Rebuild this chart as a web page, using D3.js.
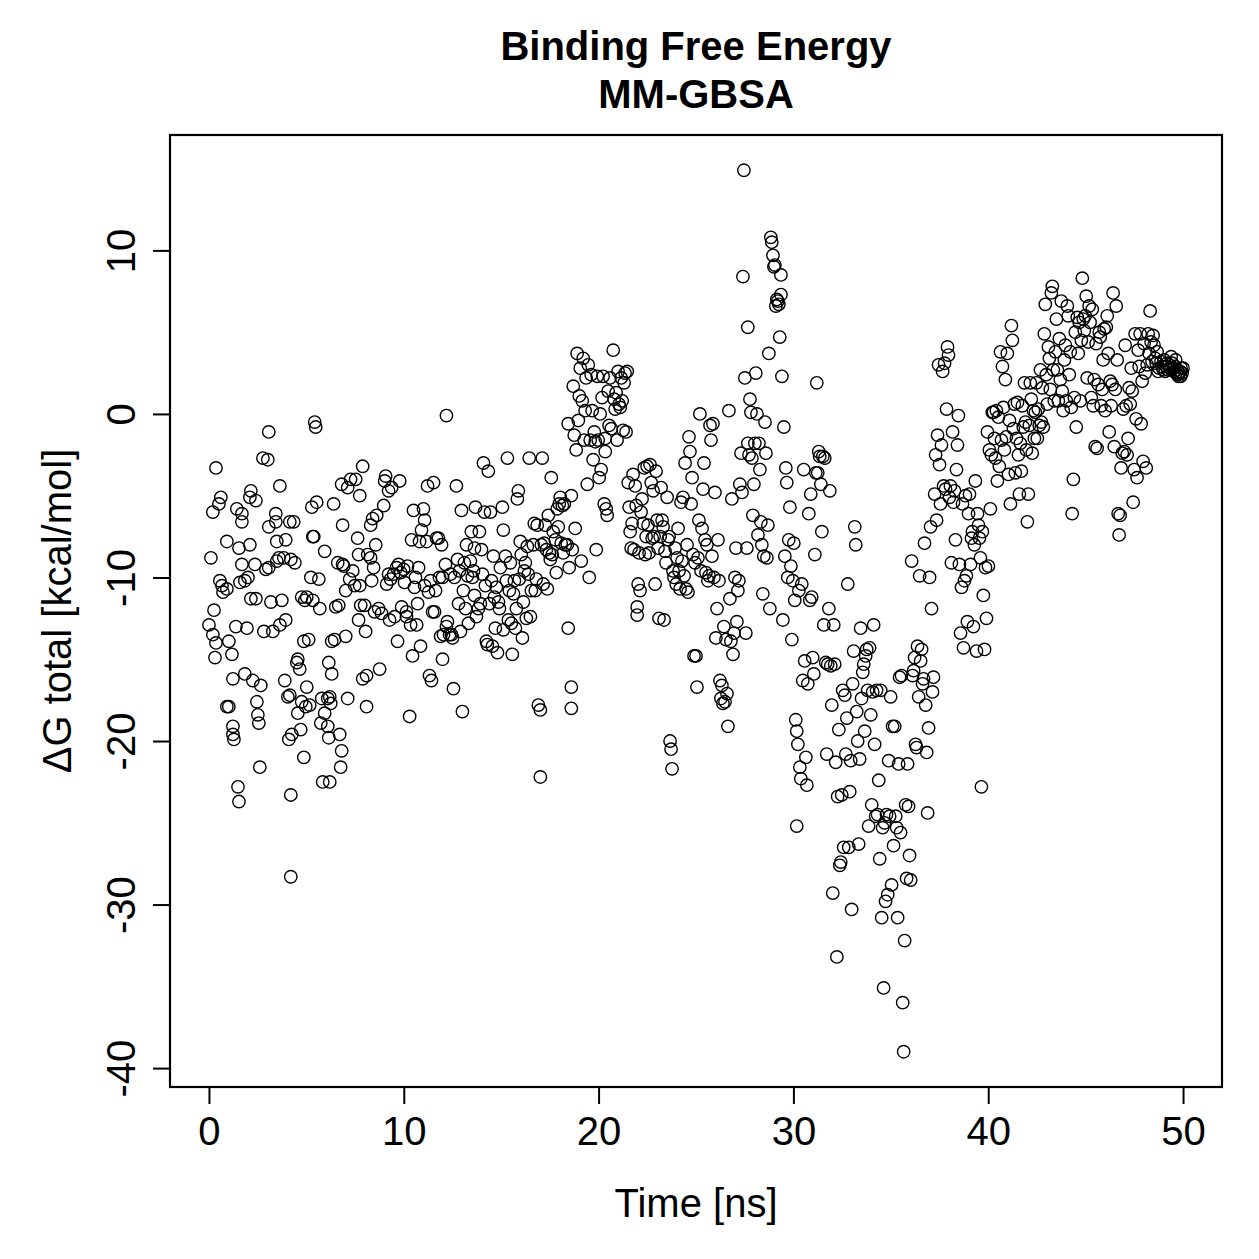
<!DOCTYPE html>
<html>
<head>
<meta charset="utf-8">
<script src="https://cdn.jsdelivr.net/npm/d3@7"></script>
<style>
  body { margin: 0; background: #fff; }
  svg { display: block; }
  text { font-family: "Liberation Sans", Arial, Helvetica, sans-serif; fill: #000; }
</style>
</head>
<body>
<div id="chart"></div>
<script>
const titleLines = ["Binding Free Energy", "MM-GBSA"];
const xLabel = "Time [ns]";
const yLabel = "\u0394G total [kcal/mol]";
const xTicks = [0, 10, 20, 30, 40, 50];
const yTicks = [-40, -30, -20, -10, 0, 10];

// [time (ns), dG total (kcal/mol)]
const samples = [
  [0.00,-12.9],[0.10,-8.8],[0.20,-13.5],[0.26,-12.0],[0.31,-14.9],[0.36,-14.0],[0.20,-6.0],[0.36,-3.3],[0.51,-5.5],[0.56,-10.2],
  [0.67,-10.5],[0.72,-10.9],[0.61,-5.1],[0.92,-7.8],[0.92,-10.7],[0.92,-17.9],[1.02,-17.9],[1.02,-13.9],[1.18,-14.7],[1.23,-19.6],
  [1.28,-19.9],[1.23,-19.1],[1.23,-16.2],[1.38,-13.0],[1.43,-5.8],[1.54,-8.2],[1.49,-22.8],[1.54,-23.7],[1.59,-10.3],[1.69,-6.1],
  [1.69,-6.6],[1.84,-10.2],[2.00,-10.0],[1.84,-15.9],[1.69,-9.2],[1.95,-13.1],[2.10,-5.1],[2.15,-4.7],[2.10,-8.0],[2.15,-11.3],
  [2.25,-16.3],[2.41,-5.3],[2.36,-9.2],[2.41,-11.3],[2.46,-17.6],[2.51,-18.4],[2.56,-18.9],[2.61,-21.6],[2.66,-16.6],[2.77,-2.7],
  [2.82,-13.3],[3.02,-2.8],[3.07,-1.1],[3.07,-6.9],[3.07,-9.4],[3.18,-11.5],[2.92,-9.5],[3.28,-13.3],[3.43,-6.1],[3.43,-6.6],
  [3.48,-7.8],[3.48,-9.0],[3.59,-8.8],[3.64,-4.4],[3.64,-12.9],[3.74,-11.4],[3.84,-8.8],[3.89,-16.3],[3.94,-12.6],[4.05,-17.3],
  [4.15,-17.2],[4.20,-28.3],[4.20,-23.3],[4.10,-19.9],[4.15,-6.6],[3.94,-7.7],[4.20,-8.9],[4.25,-19.6],[4.35,-6.6],[4.41,-9.1],
  [4.51,-15.2],[4.56,-15.0],[4.66,-15.6],[4.56,-18.3],[4.71,-19.3],[4.76,-17.6],[4.76,-11.2],[4.87,-13.9],[4.87,-21.0],[5.02,-11.2],
  [4.92,-11.4],[4.97,-17.9],[5.02,-16.7],[5.12,-13.8],[5.17,-17.8],[5.23,-10.0],[5.28,-5.7],[5.33,-7.5],[5.38,-7.5],[5.33,-11.4],
  [5.43,-0.5],[5.48,-0.8],[5.53,-5.4],[5.64,-10.1],[5.69,-11.9],[5.74,-18.9],[5.79,-17.4],[5.84,-22.5],[5.94,-18.3],[5.94,-8.4],
  [6.10,-19.1],[6.10,-17.4],[6.15,-15.2],[6.15,-19.8],[6.20,-17.3],[6.20,-22.5],[6.25,-17.7],[6.30,-15.9],[6.30,-13.9],[6.40,-5.5],
  [6.45,-13.8],[6.51,-11.8],[6.66,-11.7],[6.61,-9.1],[6.71,-19.6],[6.76,-21.6],[6.81,-20.6],[6.86,-6.8],[6.86,-9.2],[6.81,-4.3],
  [6.92,-9.3],[7.02,-13.6],[7.02,-10.8],[7.12,-17.4],[7.12,-4.5],[7.22,-10.1],[7.27,-4.0],[7.38,-9.6],[7.48,-10.5],[7.53,-4.0],
  [7.63,-7.6],[7.68,-12.6],[7.74,-5.0],[7.68,-8.6],[7.74,-10.5],[7.79,-11.7],[7.89,-3.2],[7.89,-16.2],[7.99,-11.7],[8.04,-13.3],
  [8.09,-16.0],[8.09,-17.9],[8.15,-8.6],[8.30,-6.8],[8.30,-8.8],[8.35,-10.2],[8.40,-6.4],[8.45,-9.4],[8.50,-12.1],[8.56,-8.0],
  [8.61,-6.2],[8.71,-11.9],[8.76,-15.6],[8.86,-12.2],[8.97,-5.6],[9.02,-4.1],[9.07,-3.8],[9.12,-10.4],[9.22,-4.7],[9.22,-9.8],
  [9.27,-12.6],[9.32,-10.1],[9.38,-4.5],[9.48,-9.8],[9.53,-12.4],[9.63,-9.4],[9.68,-13.9],[9.73,-9.2],[9.79,-4.1],[9.84,-9.7],
  [9.89,-11.8],
  [9.99,-9.5],[10.04,-10.3],[10.14,-12.1],[10.14,-12.4],[10.19,-9.3],[10.30,-18.5],[10.35,-12.9],[10.40,-7.7],[10.45,-14.8],[10.50,-5.9],
  [10.55,-10.6],[10.60,-10.0],[10.66,-12.9],[10.71,-11.6],[10.76,-9.4],[10.81,-7.8],[10.86,-14.2],[10.91,-7.1],[11.01,-5.8],[11.07,-10.5],
  [11.07,-6.5],[11.17,-7.8],[11.22,-4.4],[11.27,-10.9],[11.37,-10.2],[11.32,-16.0],[11.42,-16.3],[11.48,-12.1],[11.53,-4.2],[11.58,-12.1],
  [11.63,-10.8],[11.68,-7.6],[11.78,-7.6],[11.83,-10.0],[11.89,-13.6],[11.94,-8.0],[11.99,-10.0],[11.99,-15.0],[12.04,-13.5],[12.14,-9.2],
  [12.19,-0.1],[12.19,-13.0],[12.24,-12.7],[12.35,-13.5],[12.40,-9.8],[12.45,-13.5],[12.50,-13.7],[12.55,-16.8],[12.60,-10.0],[12.70,-4.4],
  [12.76,-8.9],[12.81,-11.6],[12.86,-9.6],[12.91,-13.3],[12.96,-5.9],[13.01,-18.2],[13.06,-10.8],[13.11,-9.1],[13.17,-11.9],[13.22,-8.0],
  [13.27,-9.9],[13.32,-12.8],[13.42,-9.0],[13.47,-7.2],[13.52,-10.0],[13.58,-9.6],[13.63,-11.1],[13.63,-8.2],[13.68,-5.7],[13.73,-12.4],
  [13.83,-11.9],[13.88,-7.2],[13.93,-11.6],[13.99,-8.3],[14.04,-9.8],[14.09,-3.0],[14.14,-6.0],[14.19,-10.5],[14.24,-13.9],[14.29,-14.1],
  [14.34,-3.5],[14.40,-11.6],[14.45,-6.0],[14.50,-10.2],[14.55,-14.2],[14.60,-8.7],[14.65,-11.2],[14.70,-13.1],[14.75,-10.6],[14.81,-14.6],
  [14.86,-11.5],[14.91,-11.9],[14.96,-9.4],
  [15.06,-5.7],[15.11,-7.1],[15.11,-13.2],[15.22,-8.7],[15.27,-10.2],[15.32,-2.7],[15.37,-12.6],[15.42,-10.8],[15.47,-9.1],[15.52,-12.8],
  [15.57,-14.7],[15.63,-11.0],[15.68,-10.2],[15.73,-13.1],[15.78,-11.9],[15.83,-5.2],[15.88,-4.7],[15.93,-10.1],[15.98,-7.8],[16.03,-8.6],
  [16.09,-13.7],[16.14,-11.5],[16.19,-9.6],[16.24,-9.1],[16.29,-12.5],[16.34,-8.1],[16.39,-9.8],[16.44,-2.7],[16.50,-12.4],[16.55,-10.8],
  [16.65,-8.0],[16.70,-6.7],[16.75,-10.8],[16.80,-10.1],[16.85,-6.8],[16.91,-17.8],[17.01,-18.1],[17.01,-22.2],[17.06,-8.0],[17.11,-2.7],
  [17.16,-10.4],[17.21,-7.9],[17.26,-6.8],[17.32,-8.3],[17.37,-10.7],[17.42,-6.2],[17.47,-8.5],[17.52,-8.9],[17.57,-3.9],[17.62,-8.6],
  [17.67,-7.2],[17.78,-7.7],[17.83,-9.7],[17.88,-5.8],[17.93,-6.9],[17.98,-5.5],[18.03,-5.1],[18.08,-7.9],[18.14,-5.6],[18.19,-8.5],
  [18.24,-5.5],[18.29,-8.0],[18.39,-8.0],[18.44,-13.1],[18.44,-0.6],[18.49,-9.4],[18.60,-5.0],[18.60,-16.7],[18.60,-18.0],[18.65,-8.3],
  [18.70,1.7],[18.75,-1.3],[18.80,-7.0],[18.85,-2.2],[18.90,3.7],[18.96,-0.4],[19.01,1.1],[19.06,2.8],[19.11,-9.0],[19.16,0.8],
  [19.21,3.4],[19.26,-1.6],[19.31,0.2],[19.36,2.2],[19.42,-4.3],[19.47,3.0],[19.52,-10.0],[19.57,-1.6],[19.62,2.4],[19.67,0.2],
  [19.72,-2.8],[19.78,-1.1],[19.83,-1.7],[19.88,-8.3],[19.93,2.3],[19.98,-1.6],
  [20.03,-3.9],[20.08,0.0],[20.13,-3.4],[20.18,1.0],[20.23,2.3],[20.29,-5.5],[20.34,-1.5],[20.34,-2.3],[20.39,-5.8],[20.44,-6.2],
  [20.49,1.4],[20.54,-0.7],[20.59,2.2],[20.65,-0.9],[20.75,3.9],[20.80,0.9],[20.85,0.3],[20.90,1.3],[20.95,-1.6],[21.00,2.6],
  [21.05,0.6],[21.11,0.4],[21.16,2.2],[21.21,0.8],[21.26,-1.0],[21.31,1.9],[21.36,2.5],[21.41,-1.1],[21.47,2.6],[21.52,-4.2],
  [21.57,-5.7],[21.62,-7.2],[21.67,-8.2],[21.72,-6.7],[21.77,-3.7],[21.82,-8.3],[21.88,-4.4],[21.93,-5.6],[21.98,-11.8],[21.98,-12.3],
  [22.03,-10.4],[22.08,-8.5],[22.13,-10.8],[22.18,-6.0],[22.23,-5.2],[22.29,-6.7],[22.34,-3.3],[22.39,-8.6],[22.44,-7.5],[22.49,-3.2],
  [22.54,-6.8],[22.59,-8.5],[22.64,-3.1],[22.70,-4.2],[22.75,-7.6],[22.80,-4.7],[22.85,-7.5],[22.90,-10.4],[22.95,-3.5],[23.00,-6.5],
  [23.05,-8.2],[23.10,-12.5],[23.16,-7.5],[23.21,-4.5],[23.26,-6.5],[23.31,-6.9],[23.36,-12.6],[23.41,-8.4],[23.46,-9.1],[23.52,-5.1],
  [23.57,-7.7],[23.62,-7.5],[23.67,-20.0],[23.72,-20.5],[23.77,-21.7],[23.82,-9.6],[23.87,-10.0],[23.93,-8.2],[23.98,-10.4],[24.03,-8.8],
  [24.08,-7.0],[24.13,-9.6],[24.18,-10.7],[24.23,-5.4],[24.28,-9.0],[24.33,-5.1],[24.39,-9.9],[24.44,-3.0],[24.49,-10.7],[24.54,-8.0],
  [24.59,-10.9],[24.64,-1.4],[24.69,-2.3],[24.75,-5.5],[24.80,-3.9],[24.85,-8.6],[24.90,-14.8],[24.95,-9.1],
  [25.00,-14.8],[25.05,-16.7],[25.10,-8.8],[25.15,-6.5],[25.20,0.0],[25.26,-9.6],[25.31,-7.0],[25.36,-4.6],[25.41,-3.0],[25.46,-7.7],
  [25.51,-9.7],[25.56,-8.0],[25.61,-10.2],[25.67,-9.9],[25.72,-0.7],[25.77,-1.6],[25.82,-8.7],[25.87,-0.6],[25.92,-10.0],[25.97,-4.8],
  [26.02,-13.7],[26.08,-11.9],[26.13,-7.7],[26.18,-10.2],[26.23,-16.3],[26.28,-17.4],[26.33,-16.6],[26.38,-17.7],[26.43,-13.0],[26.49,-17.6],
  [26.54,-13.8],[26.59,-17.1],[26.64,-19.1],[26.69,0.2],[26.74,-11.3],[26.79,-13.9],[26.84,-5.2],[26.90,-14.7],[26.95,-13.4],[27.00,-10.0],
  [27.05,-8.2],[27.10,-12.7],[27.15,-10.8],[27.20,-10.2],[27.25,-4.3],[27.31,-2.4],[27.36,-4.8],[27.41,8.4],[27.46,14.9],[27.51,2.2],
  [27.56,-13.4],[27.61,-8.2],[27.66,-1.8],[27.66,5.3],[27.72,-2.5],[27.77,0.9],[27.82,0.1],[27.87,-2.7],[27.92,-6.2],[27.97,-4.3],
  [28.02,-1.8],[28.07,2.5],[28.13,0.0],[28.18,-7.4],[28.23,-1.8],[28.28,-3.4],[28.33,-6.6],[28.38,-8.0],[28.43,-11.0],[28.48,-8.7],
  [28.54,-0.5],[28.59,-2.4],[28.64,-8.8],[28.69,-6.8],[28.74,3.7],[28.79,-11.9],[28.84,10.8],[28.89,10.5],[28.95,9.7],[29.00,9.0],
  [29.05,9.1],[29.10,6.6],[29.15,7.0],[29.20,6.9],[29.25,6.7],[29.30,4.7],[29.36,8.5],[29.36,7.3],[29.41,2.3],[29.46,-12.6],
  [29.51,-0.8],[29.56,-8.7],[29.61,-3.3],[29.66,-4.2],[29.71,-10.0],[29.76,-7.7],[29.82,-5.7],[29.87,-9.3],[29.92,-13.8],[29.97,-10.2],
  [30.02,-7.9],[30.07,-11.4],[30.12,-18.7],[30.17,-25.2],[30.17,-19.4],[30.23,-20.2],[30.28,-10.8],[30.33,-21.6],[30.38,-22.3],[30.43,-10.4],
  [30.48,-16.3],[30.53,-3.4],[30.58,-15.1],[30.64,-21.0],[30.69,-22.7],[30.74,-16.5],[30.79,-6.1],[30.84,-11.4],[30.89,-4.9],[30.94,-11.2],
  [30.99,-14.9],[31.05,-15.9],[31.10,-8.6],[31.15,-3.6],[31.20,1.9],[31.25,-3.6],[31.30,-2.3],[31.35,-2.6],[31.41,-4.3],[31.46,-7.2],
  [31.51,-2.6],[31.56,-12.9],[31.61,-2.7],[31.66,-15.2],[31.71,-20.8],[31.76,-15.3],[31.82,-11.9],[31.87,-4.7],[31.92,-15.4],[31.97,-17.8],
  [32.02,-29.3],[32.07,-12.9],[32.12,-15.3],[32.17,-21.3],[32.23,-33.2],[32.27,-23.4],[32.33,-19.3],[32.38,-27.6],[32.43,-27.4],[32.48,-23.3],
  [32.53,-16.9],[32.58,-26.5],[32.64,-17.2],[32.69,-20.8],[32.74,-18.6],[32.79,-10.4],[32.84,-26.5],[32.89,-23.1],[32.94,-21.2],[32.99,-30.3],
  [33.04,-16.5],[33.09,-14.5],[33.15,-6.9],[33.20,-8.0],[33.25,-18.2],[33.30,-20.0],[33.35,-26.3],[33.40,-21.1],[33.45,-13.1],[33.50,-17.4],
  [33.56,-15.8],[33.61,-15.3],[33.66,-19.4],[33.71,-14.8],[33.76,-14.4],[33.81,-16.9],[33.86,-25.2],[33.91,-14.3],[33.97,-18.4],[34.02,-23.9],
  [34.07,-17.0],[34.12,-12.9],[34.17,-20.2],[34.22,-24.6],[34.27,-16.9],[34.32,-24.5],[34.38,-22.4],[34.43,-27.2],[34.48,-16.9],[34.53,-30.8],
  [34.58,-25.3],[34.63,-35.1],[34.68,-25.0],[34.73,-29.8],[34.78,-24.5],[34.84,-29.4],[34.89,-21.2],[34.94,-24.6],
  [34.99,-17.3],[35.04,-28.8],[35.09,-19.1],[35.14,-26.4],[35.20,-19.1],[35.25,-24.6],[35.30,-25.3],[35.35,-30.8],[35.40,-21.4],[35.45,-16.1],
  [35.50,-25.6],[35.55,-16.0],[35.61,-36.0],[35.66,-39.0],[35.71,-32.2],[35.76,-23.9],[35.81,-28.4],[35.86,-21.4],[35.91,-24.0],[35.96,-27.0],
  [36.02,-28.5],[36.07,-9.0],[36.12,-16.0],[36.17,-15.7],[36.22,-14.9],[36.27,-20.2],[36.32,-20.4],[36.37,-14.2],[36.43,-17.3],[36.48,-9.9],
  [36.53,-15.1],[36.58,-14.4],[36.63,-16.5],[36.68,-16.2],[36.73,-7.9],[36.79,-17.8],[36.84,-20.7],[36.89,-24.4],[36.94,-19.2],[36.99,-10.0],
  [37.04,-6.9],[37.09,-11.9],[37.14,-17.0],[37.19,-16.1],[37.25,-4.9],[37.30,-2.5],[37.35,-6.5],[37.40,-1.3],[37.45,3.0],[37.50,-3.1],
  [37.55,-5.5],[37.60,-1.9],[37.66,2.6],[37.71,-4.4],[37.76,3.1],[37.81,-4.6],[37.86,0.3],[37.91,4.1],[37.96,3.6],[38.01,-5.1],
  [38.06,-4.4],[38.11,-9.1],[38.17,-1.1],[38.22,-5.4],[38.27,-4.7],[38.32,-7.7],[38.37,-3.4],[38.42,-1.9],[38.47,-0.1],[38.52,-9.2],
  [38.58,-13.4],[38.63,-10.6],[38.68,-5.5],[38.73,-14.3],[38.78,-10.2],[38.83,-5.0],[38.88,-9.9],[38.93,-12.7],[38.99,-6.1],[39.04,-4.9],
  [39.09,-9.2],[39.14,-7.6],[39.19,-7.2],[39.24,-13.0],[39.29,-8.0],[39.34,-4.1],[39.40,-14.5],[39.45,-6.1],[39.50,-6.8],[39.55,-7.6],
  [39.60,-8.8],[39.65,-22.8],[39.70,-7.2],[39.75,-11.1],[39.81,-14.4],[39.86,-9.4],[39.91,-12.5],[39.96,-1.1],
  [40.01,-9.3],[40.06,-2.2],[40.11,-5.8],[40.16,-2.5],[40.21,0.1],[40.27,0.1],[40.32,-1.5],[40.37,-2.7],[40.42,0.2],[40.47,-4.1],
  [40.52,-0.2],[40.57,-3.2],[40.63,3.8],[40.68,-1.6],[40.73,2.9],[40.78,0.4],[40.83,-2.2],[40.88,2.1],[40.93,-1.4],[40.98,3.7],
  [41.04,-3.7],[41.09,-0.4],[41.14,-5.5],[41.19,5.4],[41.24,4.5],[41.29,-0.9],[41.34,0.6],[41.39,-3.6],[41.45,-1.5],[41.50,0.7],
  [41.55,-2.5],[41.60,-4.9],[41.65,-1.8],[41.70,-3.5],[41.75,0.5],[41.80,-0.8],[41.86,1.9],[41.91,-0.5],[41.96,-2.2],[42.01,-6.6],
  [42.06,-4.9],[42.11,-0.7],[42.16,1.9],[42.21,0.9],[42.26,-2.4],[42.32,0.2],[42.37,-1.5],[42.42,0.1],[42.47,1.9],[42.52,-1.5],
  [42.57,0.3],[42.62,-0.7],[42.68,2.7],[42.73,-0.5],[42.78,1.6],[42.83,-0.8],[42.88,4.9],[42.93,6.7],[42.98,2.4],[43.03,0.6],
  [43.09,4.1],[43.14,3.4],[43.19,1.5],[43.24,7.4],[43.29,7.8],[43.34,2.7],[43.39,0.8],[43.45,3.8],[43.50,5.8],[43.55,2.7],
  [43.60,0.8],[43.65,4.6],[43.70,2.1],[43.75,6.9],[43.80,1.4],[43.85,0.2],[43.91,3.3],[43.96,4.2],[44.01,0.8],[44.06,6.6],
  [44.11,6.0],[44.16,2.4],[44.21,3.8],[44.26,0.4],[44.31,-6.1],[44.37,-4.0],[44.42,1.0],[44.47,5.0],[44.52,-0.8],[44.57,5.9],
  [44.62,3.7],[44.67,5.6],[44.73,0.8],[44.78,4.5],[44.83,8.3],[44.88,5.8],[44.93,5.1],
  [44.98,6.0],[45.03,7.2],[45.08,2.2],[45.13,4.4],[45.18,6.6],[45.23,5.6],[45.29,1.0],[45.34,6.4],[45.39,0.5],[45.44,2.1],
  [45.49,-2.0],[45.54,4.3],[45.59,-2.1],[45.65,1.8],[45.70,5.0],[45.75,4.7],[45.80,0.5],[45.85,1.5],[45.90,3.3],[45.95,5.2],
  [46.00,0.2],[46.06,5.3],[46.11,6.0],[46.16,3.7],[46.21,-1.1],[46.26,2.0],[46.31,0.5],[46.36,1.8],[46.41,7.4],[46.47,-2.0],
  [46.52,1.5],[46.57,6.6],[46.62,3.3],[46.67,-6.1],[46.72,-7.4],[46.77,-6.2],[46.82,-3.3],[46.88,-2.4],[46.93,0.3],[46.98,-2.3],
  [47.03,4.2],[47.08,0.5],[47.13,-2.5],[47.18,-1.5],[47.23,1.6],[47.29,0.6],[47.34,2.8],[47.39,1.4],[47.44,-5.4],[47.49,-3.4],
  [47.54,4.9],[47.59,-0.3],[47.64,-3.9],[47.70,3.9],[47.75,2.9],[47.80,4.9],[47.85,-0.6],[47.90,2.0],[47.95,-2.9],[48.00,4.3],
  [48.06,2.5],[48.11,-3.3],[48.16,3.0],[48.21,4.9],[48.26,3.7],[48.31,6.3],[48.36,4.4],[48.41,3.2],[48.46,4.8],[48.51,4.2],
  [48.57,3.4],[48.62,3.1],[48.67,3.8],[48.72,2.6],[48.77,2.8],[48.87,3.2],[48.93,2.9],[48.98,2.7],[49.03,3.3],[49.08,2.6],
  [49.13,2.9],[49.18,3.1],[49.23,2.7],[49.28,3.0],[49.33,2.8],[49.39,3.5],[49.44,3.1],[49.49,2.8],[49.54,2.6],[49.59,2.9],
  [49.62,3.3],[49.64,2.5],[49.69,2.7],[49.74,2.4],[49.77,2.3],[49.80,2.5],[49.85,2.6],[49.88,2.3],[49.90,2.8],[49.95,2.5],
  [50.00,2.8]
];

const width = 1259, height = 1259;
const plot = { left: 170, right: 1222, top: 135, bottom: 1087 };
const fontSize = 40;

// R pads the data range by 4% on each side
function padRange(ext) {
  const d = (ext[1] - ext[0]) * 0.04;
  return [ext[0] - d, ext[1] + d];
}

// R prints a plain hyphen for negatives
const tickText = d => String(d);

const x = d3.scaleLinear()
  .domain(padRange(d3.extent(samples, d => d[0])))
  .range([plot.left, plot.right]);

const y = d3.scaleLinear()
  .domain(padRange(d3.extent(samples, d => d[1])))
  .range([plot.bottom, plot.top]);

const svg = d3.select("#chart").append("svg")
  .attr("width", width)
  .attr("height", height)
  .attr("viewBox", `0 0 ${width} ${height}`);

svg.append("rect")
  .attr("width", width).attr("height", height)
  .attr("fill", "#fff");

// points
svg.append("g")
  .selectAll("circle")
  .data(samples)
  .enter()
  .append("circle")
    .attr("cx", d => x(d[0]))
    .attr("cy", d => y(d[1]))
    .attr("r", 6.2)
    .attr("fill", "none")
    .attr("stroke", "#000")
    .attr("stroke-width", 1.4);

// frame
svg.append("rect")
  .attr("x", plot.left).attr("y", plot.top)
  .attr("width", plot.right - plot.left)
  .attr("height", plot.bottom - plot.top)
  .attr("fill", "none")
  .attr("stroke", "#000")
  .attr("stroke-width", 2.2);

// x axis
let gx = svg.append("g")
  .attr("transform", `translate(0,${plot.bottom})`)
  .call(d3.axisBottom(x).tickValues(xTicks).tickSize(17).tickPadding(13).tickFormat(tickText));
gx.select(".domain").remove();
gx.append("line")
  .attr("x1", x(xTicks[0])).attr("x2", x(xTicks[xTicks.length - 1]))
  .attr("stroke", "#000").attr("stroke-width", 2);
gx.selectAll(".tick line").attr("stroke-width", 2);
gx.selectAll(".tick text")
  .style("font-size", fontSize + "px")
  .style("font-family", "'Liberation Sans', Arial, sans-serif")
  .attr("fill", "#000");

// y axis, labels turned like R's default
let gy = svg.append("g")
  .attr("transform", `translate(${plot.left},0)`)
  .call(d3.axisLeft(y).tickValues(yTicks).tickSize(17).tickFormat(tickText));
gy.select(".domain").remove();
gy.append("line")
  .attr("y1", y(yTicks[0])).attr("y2", y(yTicks[yTicks.length - 1]))
  .attr("stroke", "#000").attr("stroke-width", 2);
gy.selectAll(".tick line").attr("stroke-width", 2);
gy.selectAll(".tick text")
  .attr("x", null).attr("dy", null)
  .attr("text-anchor", "middle")
  .attr("transform", "translate(-35,0) rotate(-90)")
  .style("font-size", fontSize + "px")
  .style("font-family", "'Liberation Sans', Arial, sans-serif")
  .attr("fill", "#000");

// titles
svg.selectAll(".title")
  .data(titleLines)
  .enter()
  .append("text")
    .attr("class", "title")
    .attr("x", (plot.left + plot.right) / 2)
    .attr("y", (d, i) => 60 + i * 48)
    .attr("text-anchor", "middle")
    .attr("font-weight", "bold")
    .attr("font-size", fontSize)
    .text(d => d);

svg.append("text")
  .attr("x", (plot.left + plot.right) / 2)
  .attr("y", 1217)
  .attr("text-anchor", "middle")
  .attr("font-size", fontSize)
  .text(xLabel);

svg.append("text")
  .attr("transform", `translate(71,${(plot.top + plot.bottom) / 2}) rotate(-90)`)
  .attr("text-anchor", "middle")
  .attr("font-size", fontSize)
  .text(yLabel);
</script>
</body>
</html>
